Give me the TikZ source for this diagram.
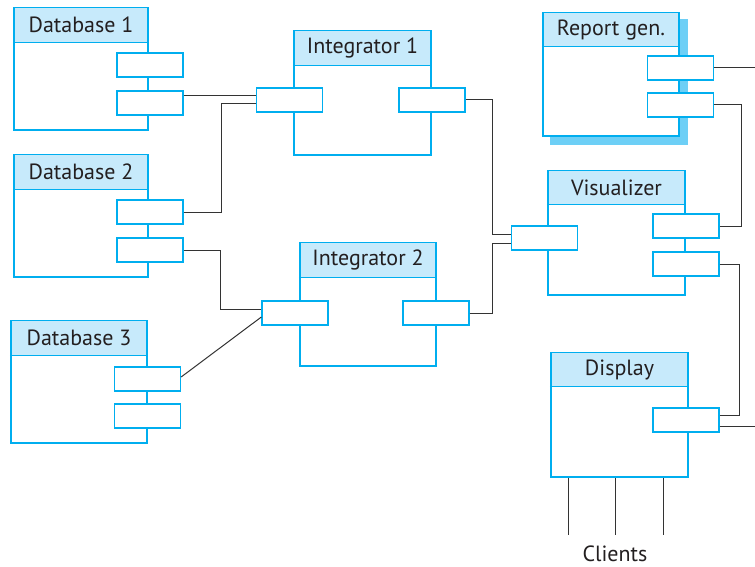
\documentclass[tikz,border=0pt]{standalone}
\usepackage{fontspec}
\setmainfont{PT Sans}
\definecolor{cy}{HTML}{00AEEF}
\definecolor{hdr}{HTML}{C7EAFB}
\definecolor{shd}{HTML}{6DCFF6}
\definecolor{txt}{HTML}{231F20}
\definecolor{ln}{HTML}{333333}
\begin{document}
\begin{tikzpicture}[x=1pt,y=-1pt,
  comp/.style={draw=cy,line width=2.5pt,fill=white,inner sep=0pt},
  hbox/.style={fill=hdr,inner sep=0pt,text=txt,font=\fontsize{22}{24}\selectfont},
  divl/.style={draw=cy,line width=1.2pt},
  port/.style={draw=cy,line width=1.3pt,fill=white,minimum width=66pt,minimum height=24pt,inner sep=0pt},
  conn/.style={draw=ln,line width=1pt},
  shadowbox/.style={fill=shd,inner sep=0pt}]
\useasboundingbox (0,0) rectangle (755,567);
% ---------- Report gen shadow
\node[shadowbox,minimum width=138pt,minimum height=126pt] (repshd) at (619,82) {};
\coordinate (rfree) at (755,68);
\coordinate (dfree) at (755,426);
% ---------- Database 1
\node[comp,minimum width=134pt,minimum height=122pt] (db1) at (81,69) {};
\node[hbox,minimum width=131.5pt,minimum height=34pt,anchor=north] (db1h) at ([yshift=-1.25pt]db1.north) {Database 1};
\draw[divl] (db1.west |- db1h.south) -- (db1.east |- db1h.south);
\node[port] (db1p1) at (150,65) {};
\node[port] (db1p2) at (150,103) {};
% ---------- Database 2
\node[comp,minimum width=134pt,minimum height=122pt] (db2) at (81,216) {};
\node[hbox,minimum width=131.5pt,minimum height=34pt,anchor=north] (db2h) at ([yshift=-1.25pt]db2.north) {Database 2};
\draw[divl] (db2.west |- db2h.south) -- (db2.east |- db2h.south);
\node[port] (db2p1) at (150,212) {};
\node[port] (db2p2) at (150,250) {};
% ---------- Database 3
\node[comp,minimum width=136pt,minimum height=122pt] (db3) at (79,382) {};
\node[hbox,minimum width=133.5pt,minimum height=34pt,anchor=north] (db3h) at ([yshift=-1.25pt]db3.north) {Database 3};
\draw[divl] (db3.west |- db3h.south) -- (db3.east |- db3h.south);
\node[port] (db3p1) at (147.5,379) {};
\node[port] (db3p2) at (147.5,416) {};
% ---------- Integrator 1
\node[comp,minimum width=137pt,minimum height=124pt] (int1) at (362.5,93) {};
\node[hbox,minimum width=134.5pt,minimum height=34pt,anchor=north] (int1h) at ([yshift=-1.25pt]int1.north) {Integrator 1};
\draw[divl] (int1.west |- int1h.south) -- (int1.east |- int1h.south);
\node[port] (int1pl) at (289.5,100) {};
\node[port] (int1pr) at (432,100) {};
% ---------- Integrator 2
\node[comp,minimum width=136pt,minimum height=123pt] (int2) at (368,304.5) {};
\node[hbox,minimum width=133.5pt,minimum height=34pt,anchor=north] (int2h) at ([yshift=-1.25pt]int2.north) {Integrator 2};
\draw[divl] (int2.west |- int2h.south) -- (int2.east |- int2h.south);
\node[port] (int2pl) at (295,313) {};
\node[port] (int2pr) at (436,313) {};
% ---------- Report gen.
\node[comp,minimum width=136pt,minimum height=123pt] (rep) at (611,74.5) {};
\node[hbox,minimum width=133.5pt,minimum height=33pt,anchor=north] (reph) at ([yshift=-1.25pt]rep.north) {Report gen.};
\draw[divl] (rep.west |- reph.south) -- (rep.east |- reph.south);
\node[port] (repp1) at (680.5,68) {};
\node[port] (repp2) at (680.5,105) {};
% ---------- Visualizer
\node[comp,minimum width=137pt,minimum height=124pt] (vis) at (616.5,233) {};
\node[hbox,minimum width=134.5pt,minimum height=33pt,anchor=north] (vish) at ([yshift=-1.25pt]vis.north) {Visualizer};
\draw[divl] (vis.west |- vish.south) -- (vis.east |- vish.south);
\node[port] (vispl) at (544.5,238) {};
\node[port] (visp1) at (686,226) {};
\node[port] (visp2) at (686,264) {};
% ---------- Display
\node[comp,minimum width=137pt,minimum height=124pt] (disp) at (619.5,415) {};
\node[hbox,minimum width=134.5pt,minimum height=33pt,anchor=north] (disph) at ([yshift=-1.25pt]disp.north) {Display};
\draw[divl] (disp.west |- disph.south) -- (disp.east |- disph.south);
\node[port] (dispp) at (686,420) {};
% ---------- connectors
\draw[conn] (db1p2.east |- 0,96) -- (int1pl.west |- 0,96);
\draw[conn] (db2p1.east) -| (221,104) -- (int1pl.west |- 0,104);
\draw[conn] (db2p2.east) -| (220,309) -- (int2pl.west |- 0,309);
\draw[conn] (db3p1.east |- 0,377) -- (int2pl.west |- 0,317);
\draw[conn] (int1pr.east) -| (492,234) -- (vispl.west |- 0,234);
\draw[conn] (int2pr.east) -| (492,243) -- (vispl.west |- 0,243);
\draw[conn] (repp1.east) -- (rfree);
\draw[conn] (repp2.east) -| (741,226) -- (visp1.east);
\draw[conn] (visp2.east) -| (739,415) -- (dispp.east |- 0,415);
\draw[conn] (dispp.east |- dfree) -- (dfree);
% ---------- clients
\coordinate (c1) at (568,535);
\coordinate (c2) at (615,535);
\coordinate (c3) at (663,535);
\draw[conn] (disp.south -| c1) -- (c1);
\draw[conn] (disp.south -| c2) -- (c2);
\draw[conn] (disp.south -| c3) -- (c3);
\node[text=txt,font=\fontsize{22}{24}\selectfont] (clients) at (615,554) {Clients};
\end{tikzpicture}
\end{document}
